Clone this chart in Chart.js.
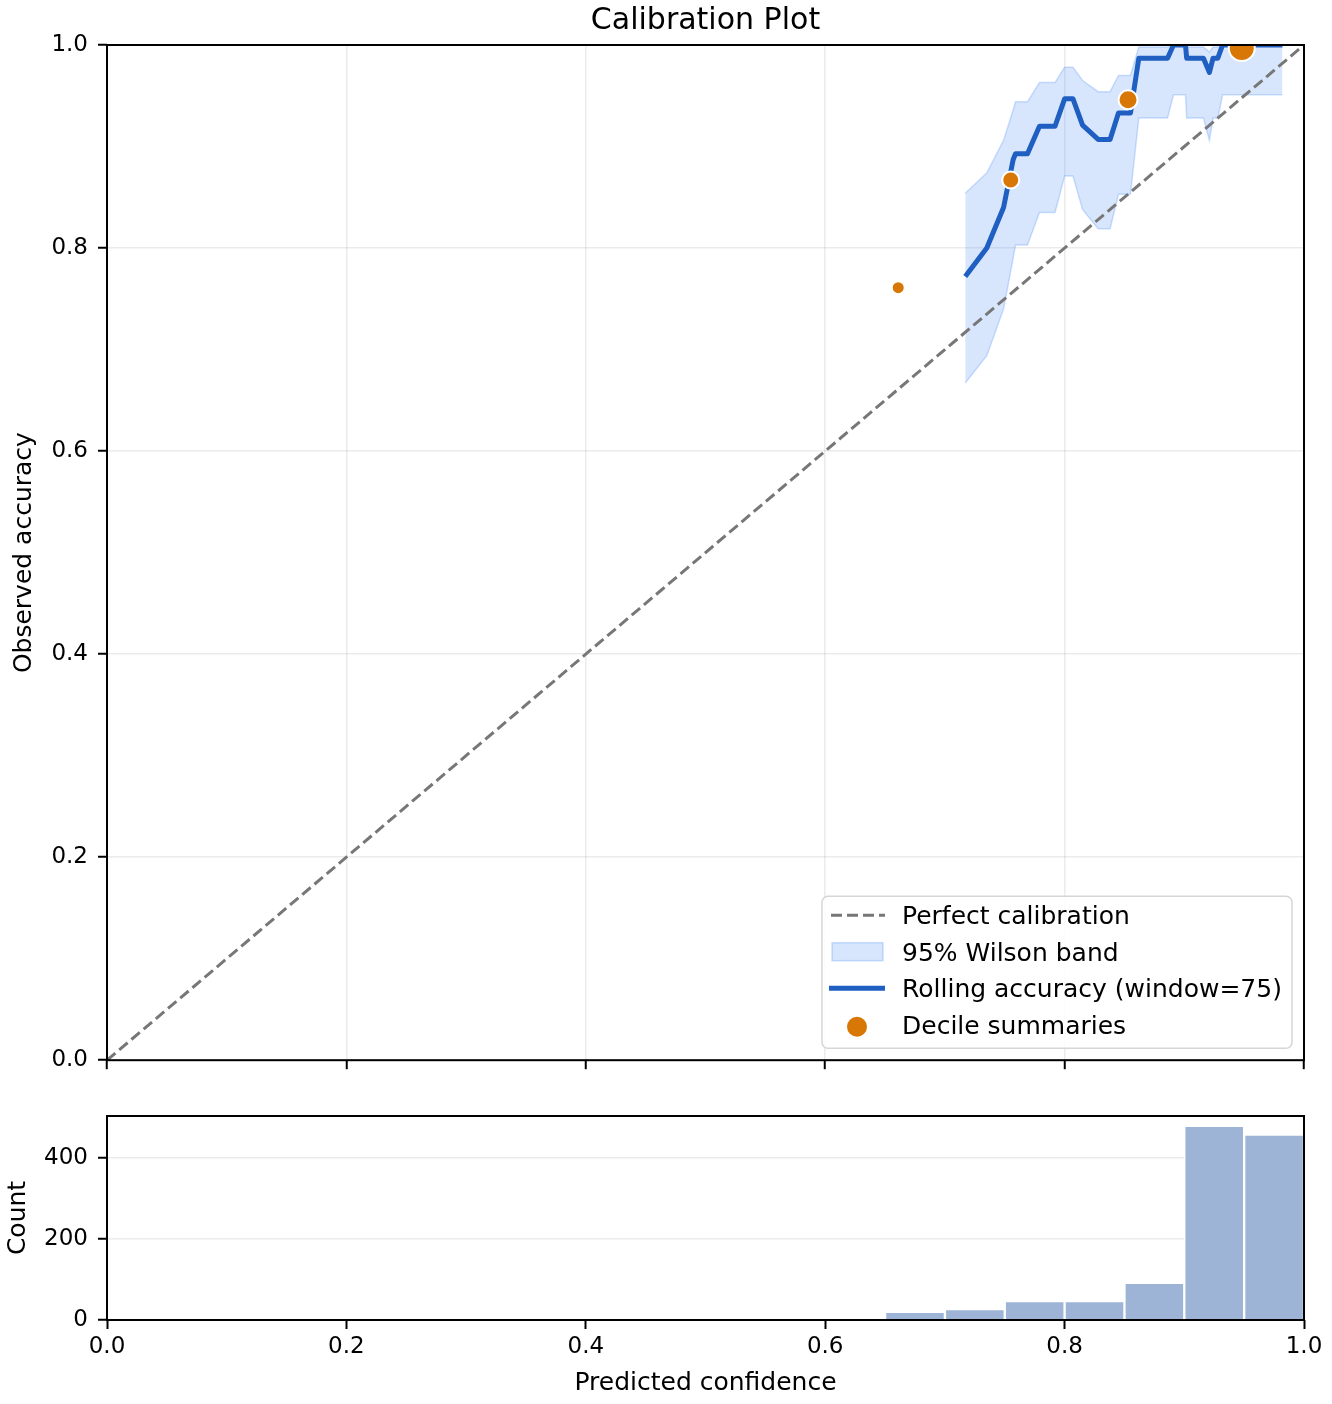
<!DOCTYPE html>
<html>
<head>
<meta charset="utf-8">
<script src="https://cdn.jsdelivr.net/npm/chart.js@4.4.1/dist/chart.umd.min.js"></script>
<style>
body { margin: 0; background: #fff; }
#wrap { position: relative; width: 1332px; height: 1404px; }
.box { position: absolute; left: 0; width: 1332px; }
</style>
</head>
<body>
<div id="wrap">
  <div class="box" style="top:0;height:1084px"><canvas id="calib"></canvas></div>
  <div class="box" style="top:1084px;height:320px"><canvas id="hist"></canvas></div>
</div>
<script>
// data
var diagX = [0, 1];
var diagY = [0, 1];

var rollConf = [0.717, 0.735, 0.749, 0.757, 0.759, 0.769, 0.779, 0.792, 0.800, 0.807, 0.815, 0.828, 0.838,
                0.845, 0.855, 0.862, 0.886, 0.891, 0.901, 0.902, 0.916, 0.921, 0.924, 0.928, 0.932, 0.982];
var rollAcc = [0.772, 0.800, 0.840, 0.887, 0.893, 0.893, 0.920, 0.920, 0.947, 0.947, 0.921, 0.907, 0.907,
               0.933, 0.933, 0.987, 0.987, 1.0, 1.0, 0.987, 0.987, 0.973, 0.987, 0.987, 1.0, 1.0];
var bandLow = [0.667, 0.694, 0.740, 0.790, 0.803, 0.803, 0.835, 0.835, 0.871, 0.871, 0.838, 0.819, 0.819,
               0.853, 0.853, 0.928, 0.928, 0.951, 0.951, 0.928, 0.928, 0.906, 0.928, 0.928, 0.951, 0.951];
var bandHigh = [0.854, 0.874, 0.906, 0.936, 0.944, 0.944, 0.963, 0.963, 0.978, 0.978, 0.965, 0.954, 0.954,
                0.970, 0.970, 0.998, 0.998, 1.0, 1.0, 0.998, 0.998, 0.993, 0.998, 0.998, 1.0, 1.0];

var decileConf = [0.661, 0.755, 0.853, 0.948];
var decileAcc = [0.761, 0.867, 0.946, 0.997];

var histEdges = [0.65, 0.70, 0.75, 0.80, 0.85, 0.90, 0.95, 1.00];
var histCounts = [20, 27, 47, 47, 92, 480, 458];

var axisTicks = [0, 0.2, 0.4, 0.6, 0.8, 1.0];

// styling
var dotRadius = [6.5, 8.5, 9.5, 13];
var lineBlue = '#1f5fc2';
var orange = '#d97706';
var bandFill = 'rgba(59,130,246,0.2)';
var bandEdge = 'rgba(59,130,246,0.25)';
var gridCol = 'rgba(0,0,0,0.08)';

Chart.defaults.font.family = '"DejaVu Sans", sans-serif';
Chart.defaults.color = '#000';

function pts(xs, ys) {
    return xs.map(function(x, i) { return { x: x, y: ys[i] }; });
}

// black box round the plot area
var frame = {
    id: 'frame',
    afterDatasetsDraw: function(chart) {
        var a = chart.chartArea, ctx = chart.ctx;
        ctx.save();
        ctx.strokeStyle = '#000';
        ctx.lineWidth = 2;
        ctx.strokeRect(a.left, a.top, a.right - a.left, a.bottom - a.top);
        ctx.restore();
    }
};

// matplotlib-like legend in the lower right corner
var legendBox = {
    id: 'legendBox',
    afterDraw: function(chart) {
        var a = chart.chartArea, ctx = chart.ctx;
        var w = 470, h = 152;
        var x0 = a.right - 12 - w, y0 = a.bottom - 12 - h;
        ctx.save();
        ctx.beginPath();
        ctx.roundRect(x0, y0, w, h, 6);
        ctx.fillStyle = 'rgba(255,255,255,0.85)';
        ctx.fill();
        ctx.strokeStyle = '#d6d6d6';
        ctx.lineWidth = 1.5;
        ctx.stroke();

        var rows = ['Perfect calibration', '95% Wilson band', 'Rolling accuracy (window=75)', 'Decile summaries'];
        var hx = x0 + 7;
        rows.forEach(function(txt, i) {
            var base = y0 + 28 + i * 36.5;
            var cy = base - 9;
            ctx.setLineDash([]);
            if (i === 0) {
                ctx.beginPath();
                ctx.setLineDash([11, 5]);
                ctx.strokeStyle = '#777';
                ctx.lineWidth = 3;
                ctx.moveTo(hx + 2, cy);
                ctx.lineTo(hx + 56, cy);
                ctx.stroke();
                ctx.setLineDash([]);
            } else if (i === 1) {
                ctx.fillStyle = bandFill;
                ctx.fillRect(hx + 3, cy - 9, 51, 18);
                ctx.strokeStyle = bandEdge;
                ctx.lineWidth = 1.5;
                ctx.strokeRect(hx + 3, cy - 9, 51, 18);
            } else if (i === 2) {
                ctx.beginPath();
                ctx.strokeStyle = lineBlue;
                ctx.lineWidth = 5;
                ctx.moveTo(hx, cy);
                ctx.lineTo(hx + 56, cy);
                ctx.stroke();
            } else {
                ctx.beginPath();
                ctx.fillStyle = orange;
                ctx.arc(hx + 28, cy + 2, 10, 0, Math.PI * 2);
                ctx.fill();
            }
            ctx.fillStyle = '#000';
            ctx.font = '25px "DejaVu Sans", sans-serif';
            ctx.textBaseline = 'alphabetic';
            ctx.textAlign = 'left';
            ctx.fillText(txt, x0 + 80, base);
        });
        ctx.restore();
    }
};

function fixWidth(w) { return function(s) { s.width = w; }; }
function fixHeight(h) { return function(s) { s.height = h; }; }
function keepTicks(list) {
    return function(s) { s.ticks = list.map(function(v) { return { value: v }; }); };
}

// calibration panel
new Chart(document.getElementById('calib'), {
    type: 'line',
    data: {
        datasets: [{
            label: 'Perfect calibration',
            data: pts(diagX, diagY),
            borderColor: '#777',
            borderWidth: 3,
            borderDash: [11, 5],
            pointRadius: 0,
            order: 2
        }, {
            label: 'band low',
            data: pts(rollConf, bandLow),
            borderColor: bandEdge,
            borderWidth: 1.5,
            pointRadius: 0,
            fill: false,
            order: 3
        }, {
            label: '95% Wilson band',
            data: pts(rollConf, bandHigh),
            borderColor: bandEdge,
            backgroundColor: bandFill,
            borderWidth: 1.5,
            pointRadius: 0,
            fill: '-1',
            order: 3
        }, {
            label: 'Rolling accuracy (window=75)',
            data: pts(rollConf, rollAcc),
            borderColor: lineBlue,
            borderWidth: 5,
            borderJoinStyle: 'round',
            pointRadius: 0,
            order: 1
        }, {
            label: 'Decile summaries',
            data: pts(decileConf, decileAcc),
            showLine: false,
            pointRadius: dotRadius,
            backgroundColor: orange,
            borderColor: '#fff',
            borderWidth: 2,
            order: 0
        }]
    },
    options: {
        responsive: true,
        maintainAspectRatio: false,
        animation: false,
        events: [],
        clip: 0,
        layout: { padding: { left: 0, right: 28, top: 0, bottom: 0 } },
        plugins: {
            legend: { display: false },
            tooltip: { enabled: false },
            title: {
                display: true,
                fullSize: false,
                text: 'Calibration Plot',
                color: '#000',
                font: { size: 30, weight: 'normal' },
                padding: { top: 3, bottom: 6 }
            }
        },
        scales: {
            x: {
                type: 'linear',
                min: 0, max: 1,
                afterBuildTicks: keepTicks(axisTicks),
                afterFit: fixHeight(16),
                border: { display: false },
                grid: { color: gridCol, lineWidth: 1.5, tickColor: '#000', tickLength: 9, tickWidth: 2 },
                ticks: { display: false }
            },
            y: {
                type: 'linear',
                min: 0, max: 1,
                afterBuildTicks: keepTicks(axisTicks),
                afterFit: fixWidth(107),
                border: { display: false },
                grid: { color: gridCol, lineWidth: 1.5, tickColor: '#000', tickLength: 9, tickWidth: 2 },
                ticks: {
                    padding: 10,
                    font: { size: 23 },
                    callback: function(v) { return v.toFixed(1); }
                },
                title: { display: true, text: 'Observed accuracy', font: { size: 25 }, padding: { top: 9 } }
            }
        }
    },
    plugins: [frame, legendBox]
});

// histogram panel
var histData = histCounts.map(function(c, i) {
    return { x: (histEdges[i] + histEdges[i + 1]) / 2, y: c };
});

new Chart(document.getElementById('hist'), {
    type: 'bar',
    data: {
        datasets: [{
            data: histData,
            backgroundColor: '#9db4d6',
            borderColor: '#fff',
            borderWidth: 1.5,
            barPercentage: 1,
            categoryPercentage: 1
        }]
    },
    options: {
        responsive: true,
        maintainAspectRatio: false,
        animation: false,
        events: [],
        layout: { padding: { left: 0, right: 28, top: 32, bottom: 0 } },
        plugins: { legend: { display: false }, tooltip: { enabled: false } },
        scales: {
            x: {
                type: 'linear',
                min: 0, max: 1,
                offset: false,
                afterBuildTicks: keepTicks(axisTicks),
                afterFit: fixHeight(84),
                border: { display: false },
                grid: { offset: false, color: 'rgba(0,0,0,0)', tickColor: '#000', tickLength: 9, tickWidth: 2 },
                ticks: {
                    padding: 4,
                    maxRotation: 0,
                    font: { size: 23 },
                    callback: function(v) { return v.toFixed(1); }
                },
                title: { display: true, text: 'Predicted confidence', font: { size: 25 }, padding: { bottom: 6 } }
            },
            y: {
                type: 'linear',
                min: 0, max: 504,
                afterBuildTicks: keepTicks([0, 200, 400]),
                afterFit: fixWidth(107),
                border: { display: false },
                grid: { color: gridCol, lineWidth: 1.5, tickColor: '#000', tickLength: 9, tickWidth: 2 },
                ticks: { padding: 10, font: { size: 23 } },
                title: { display: true, text: 'Count', font: { size: 25 }, padding: { top: 3 } }
            }
        }
    },
    plugins: [frame]
});
</script>
</body>
</html>
